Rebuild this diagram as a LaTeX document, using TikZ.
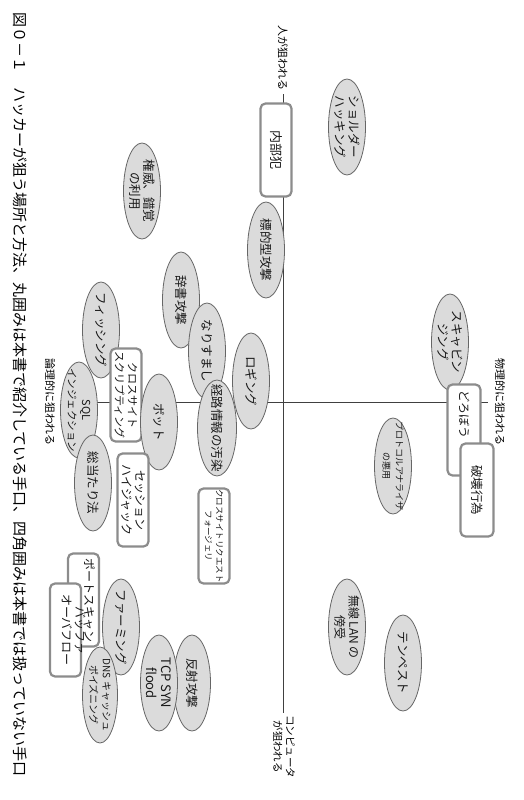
\documentclass[tikz,border=0pt]{standalone}
\usepackage{fontspec}
\setmainfont{Noto Sans CJK JP}
\usetikzlibrary{shapes.geometric}

\newcommand{\ptsize}[2]{\fontsize{#1}{#2}\selectfont}

\begin{document}
\begin{tikzpicture}[
    x=1pt, y=-1pt,
    oval/.style={ellipse, draw=black!60, line width=0.8pt, fill=black!14, inner sep=0pt, minimum width=96pt, minimum height=37pt, rotate=-90},
    ovtext/.style={rotate=-90, inner sep=0pt, align=center, text=black!90, font=\ptsize{12.5}{14}},
    box/.style={draw=black!45, line width=2.2pt, fill=white, rounded corners=5pt, inner sep=0pt, minimum width=93pt, minimum height=31pt, align=center, rotate=-90, text=black!90, font=\ptsize{12}{13.5}},
    axislabel/.style={rotate=-90, inner sep=0pt, align=center, font=\ptsize{11}{12}},
    axis/.style={draw=black!75, line width=0.8pt}
]
    \useasboundingbox (0,0) rectangle (523,800);

    % axes
    \coordinate (ptop) at (283,94);
    \coordinate (pbottom) at (283,713);
    \coordinate (pleft) at (62,402);
    \coordinate (pright) at (488,402);
    \draw[axis] (ptop) -- (pbottom);
    \draw[axis] (pleft) -- (pright);

    \node[axislabel] (ltop) at (283,58) {人が狙われる};
    \node[axislabel] (lright) at (500,402) {物理的に狙われる};
    \node[axislabel] (lleft) at (50,402) {論理的に狙われる};
    \node[axislabel, anchor=west, font=\ptsize{10.5}{12.5}] (lbottom) at (284,715) {コンピュータ\\が狙われる};

    % upper half
    \node[oval, label={[ovtext]center:{ショルダー\\ハッキング}}] (shoulder) at (347,127) {};
    \node[box, font=\ptsize{13}{14}] (insider) at (276,150) {内部犯};
    \node[oval, label={[ovtext]center:{権威、錯覚\\の利用}}] (authority) at (142,191) {};
    \node[oval, label={[ovtext]center:{標的型攻撃}}] (targeted) at (266,250) {};
    \node[oval, label={[ovtext]center:{辞書攻撃}}] (dictionary) at (181,300) {};
    \node[oval, label={[ovtext]center:{なりすまし}}] (spoofing) at (207,351) {};
    \node[oval, label={[ovtext]center:{ロギング}}] (logging) at (251,381) {};
    \node[oval, minimum height=39pt, label={[ovtext]center:{経路情報の汚染}}] (routing) at (217,428) {};

    \node[oval, label={[ovtext]center:{フィッシング}}] (phishing) at (101,330) {};
    \node[oval, label={[ovtext, font=\ptsize{10.5}{14}]center:{{\ptsize{11}{14}SQL}\\インジェクション}}] (sqlinj) at (79,410) {};
    \node[box, font=\ptsize{11}{13}] (xss) at (126,395) {クロスサイト\\スクリプティング};
    \node[oval, label={[ovtext]center:{ボット}}] (bot) at (159,422) {};
    \node[oval, label={[ovtext]center:{総当たり法}}] (bruteforce) at (93,483) {};
    \node[box] (session) at (133,500) {セッション\\ハイジャック};

    % lower half
    \node[box, minimum width=95pt, font=\ptsize{8.5}{11}] (csrf) at (214,536) {クロスサイトリクエスト\\フォージェリ};
    \node[oval, label={[ovtext]center:{ファーミング}}] (pharming) at (121,627) {};
    \node[oval, minimum height=35pt, label={[ovtext, font=\ptsize{10}{13}]center:{DNS キャッシュ\\ポイズニング}}] (dnspoison) at (100,695) {};
    \node[box, text height=10pt, text depth=12pt] (portscan) at (83.5,600) {ポートスキャン};
    \node[box, text height=17pt, text depth=10pt] (overflow) at (65.5,630) {バッファ\\オーバフロー};
    \node[oval, label={[ovtext]center:{反射攻撃}}] (reflection) at (192,683) {};
    \node[oval, label={[ovtext, font=\ptsize{13}{15}]center:{TCP SYN\\flood}}] (synflood) at (159,683) {};

    % physical side
    \node[oval, label={[ovtext]center:{スキャビン\\ジング}}] (scavenging) at (450,342) {};
    \node[oval, label={[ovtext, font=\ptsize{9}{13}]center:{プロトコルアナライザ\\の悪用}}] (analyzer) at (393,466) {};
    \node[box, minimum width=91pt, minimum height=33pt] (thief) at (464,430) {\makebox[80pt][l]{どろぼう}};
    \node[box, minimum height=33pt, font=\ptsize{12.5}{14}] (vandalism) at (477,490) {破壊行為};
    \node[oval, label={[ovtext, font=\ptsize{12}{14}]center:{無線 LAN の\\傍受}}] (wlan) at (347,627) {};
    \node[oval, label={[ovtext]center:{テンペスト}}] (tempest) at (403,663) {};

    % caption
    \node[rotate=-90, anchor=west, inner sep=0pt, font=\ptsize{15}{16}] (caption) at (20,12) {図０－１　ハッカーが狙う場所と方法、丸囲みは本書で紹介している手口、四角囲みは本書では扱っていない手口};
\end{tikzpicture}
\end{document}
